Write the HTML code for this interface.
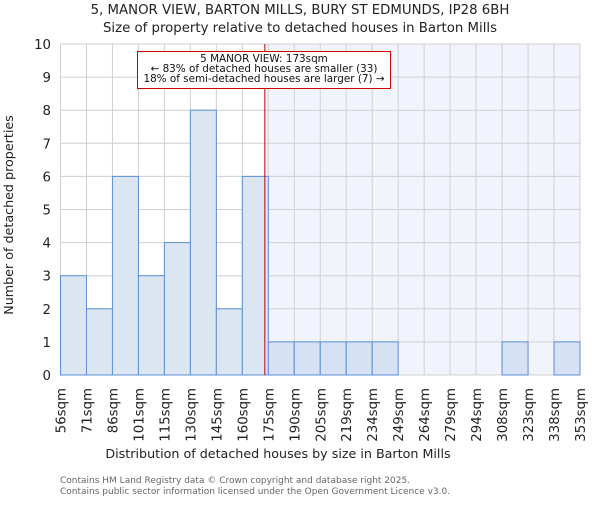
<!DOCTYPE html>
<html><head><meta charset="utf-8"><style>
body{margin:0;background:#fff}
svg text{font-family:"DejaVu Sans","Liberation Sans",sans-serif}
</style></head><body>
<svg id="c" width="600" height="500" xmlns="http://www.w3.org/2000/svg">
<text x="300" y="14" text-anchor="middle" font-size="13.3" fill="#222">5, MANOR VIEW, BARTON MILLS, BURY ST EDMUNDS, IP28 6BH</text>
<text x="300" y="32" text-anchor="middle" font-size="13.3" fill="#222">Size of property relative to detached houses in Barton Mills</text>
<g id="plot"></g>
<text x="278" y="458" text-anchor="middle" font-size="12.7" fill="#222">Distribution of detached houses by size in Barton Mills</text>
<text transform="translate(13,215) rotate(-90)" text-anchor="middle" font-size="12.7" fill="#222">Number of detached properties</text>
<text x="60" y="483" font-size="9" fill="#666">Contains HM Land Registry data © Crown copyright and database right 2025.</text>
<text x="60" y="494" font-size="9" fill="#666">Contains public sector information licensed under the Open Government Licence v3.0.</text>
</svg>
<script>
const binLabels=["56sqm","71sqm","86sqm","101sqm","115sqm","130sqm","145sqm","160sqm","175sqm","190sqm","205sqm","219sqm","234sqm","249sqm","264sqm","279sqm","294sqm","308sqm","323sqm","338sqm","353sqm"];
const binStarts=[56,71,86,101,115,130,145,160,175,190,205,219,234,249,264,279,294,308,323,338,353];
const counts=[3,2,6,3,4,8,2,6,1,1,1,1,1,0,0,0,0,1,0,1];
const yTicks=[0,1,2,3,4,5,6,7,8,9,10];
const subject=173;
const NS="http://www.w3.org/2000/svg";
const L=60.5,R=580,T=44,B=375;
const n=counts.length,bw=(R-L)/n;
const xi=i=>L+i*bw;
const y=v=>B-(v/10)*(B-T);
function xv(v){for(let i=0;i<n;i++){if(v<=binStarts[i+1])return xi(i)+bw*(v-binStarts[i])/(binStarts[i+1]-binStarts[i]);}return R;}
const g=document.getElementById('plot');
function mk(t,a,p){const e=document.createElementNS(NS,t);for(const k in a)e.setAttribute(k,a[k]);(p||g).appendChild(e);return e;}
const sx=xv(subject);
const sh=mk('rect',{x:sx,y:T,width:R-sx,height:B-T,fill:'#f1f4fc'});


for(let i=0;i<=n;i++){const l=mk('line',{x1:xi(i),x2:xi(i),y1:T,y2:B,stroke:'#d0d0d0','stroke-width':1});

}
yTicks.forEach(v=>{const l=mk('line',{x1:L,x2:R,y1:y(v),y2:y(v),stroke:'#d0d0d0','stroke-width':1});


const t=mk('text',{x:51,y:y(v)+5,'text-anchor':'end','font-size':13.3,fill:'#222'});t.textContent=v;

});
counts.forEach((c,i)=>{if(c<=0)return;const r=mk('rect',{x:xi(i),y:y(c),width:bw,height:B-y(c),fill:xi(i)>=sx?'#d6e1f3':'#dce6f3',stroke:'#5b8fd6','stroke-width':1});

});
binLabels.forEach((lb,i)=>{const t=mk('text',{transform:`translate(${xi(i)+5},388) rotate(-90)`,'text-anchor':'end','font-size':13.3,fill:'#222'});t.textContent=lb;

});
const vl=mk('line',{x1:sx,x2:sx,y1:T,y2:B,stroke:'#b00','stroke-width':1});


const bx=mk('rect',{x:137.5,y:51.5,width:253,height:37,fill:'#fff',stroke:'#c00','stroke-width':1});


["5 MANOR VIEW: 173sqm","← 83% of detached houses are smaller (33)","18% of semi-detached houses are larger (7) →"].forEach((s,k)=>{const t=mk('text',{x:264,y:62+k*10,'text-anchor':'middle','font-size':10.4,fill:'#111'});t.textContent=s;

});
</script>
</body></html>
